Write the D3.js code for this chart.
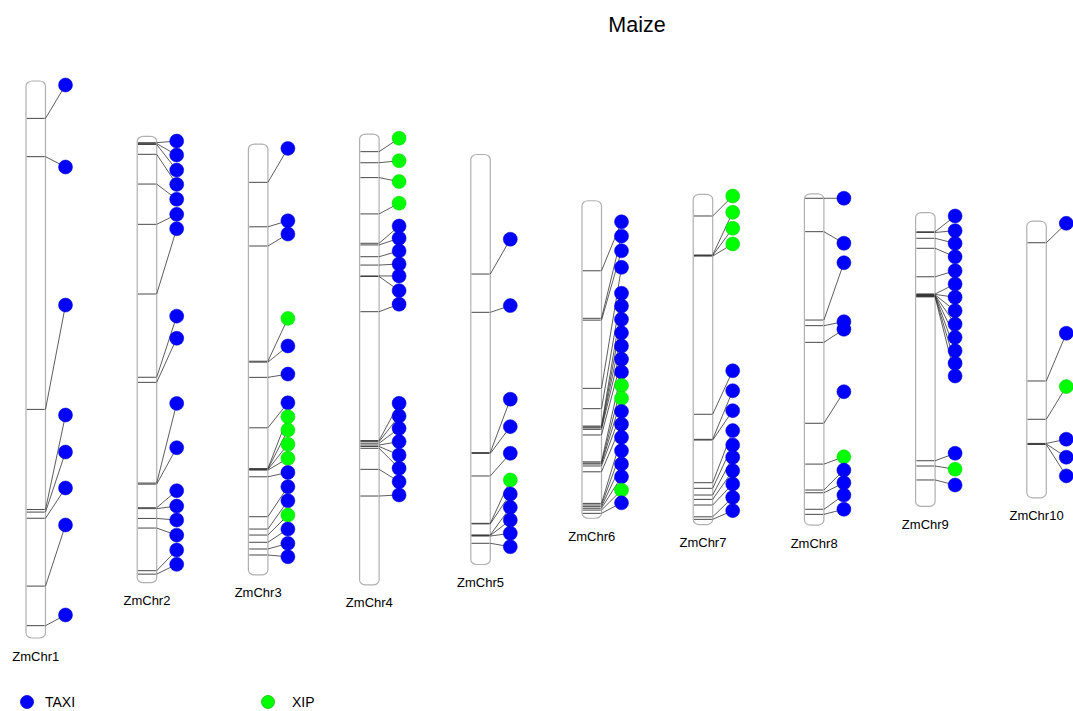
<!DOCTYPE html>
<html>
<head>
<meta charset="utf-8">
<script src="https://cdn.jsdelivr.net/npm/d3@7"></script>
<style>
  body { margin: 0; background: #fff; }
  svg { font-family: "Liberation Sans", Arial, sans-serif; }
</style>
</head>
<body>
<svg id="chart" width="1073" height="711"></svg>
<script>
// chromosome names and lengths (Mb)
const chromosomes = ["ZmChr1","ZmChr2","ZmChr3","ZmChr4","ZmChr5","ZmChr6","ZmChr7","ZmChr8","ZmChr9","ZmChr10"]
const chromLengths = [307, 246, 237.5, 248.5, 226, 175, 182, 182.5, 162, 152.5]

// gene positions on each chromosome (Mb)
const genePos = [
  [20.6, 41.7, 181.0, 236.2, 237.6, 241.0, 278.4, 300.2],
  [3.5, 4.0, 4.5, 9.9, 26.3, 48.5, 86.9, 132.8, 135.6, 191.1, 191.7, 204.7, 205.2, 210.6, 215.9, 239.4, 241.3],
  [21.1, 45.6, 56.2, 119.7, 120.2, 128.6, 156.4, 178.9, 179.1, 179.4, 179.7, 183.4, 205.4, 212.2, 215.5, 219.5, 223.2, 226.5],
  [9.7, 15.8, 24.0, 44.0, 60.2, 61.1, 67.6, 72.2, 78.2, 78.5, 97.9, 168.9, 169.5, 170.4, 171.4, 172.2, 173.2, 184.8, 199.5],
  [65.9, 87.0, 164.3, 164.8, 177.2, 203.3, 203.6, 209.7, 210.0, 210.3, 214.3],
  [38.6, 64.8, 65.8, 103.4, 114.6, 124.2, 124.7, 125.2, 126.0, 129.1, 143.9, 144.6, 145.1, 146.2, 149.4, 166.8, 167.7, 168.6, 169.5, 170.5, 172.3],
  [11.9, 33.4, 33.7, 34.0, 121.2, 135.0, 135.4, 158.9, 162.0, 165.7, 168.1, 171.2, 177.7, 179.1],
  [2.4, 20.8, 69.5, 72.6, 81.8, 126.4, 148.9, 163.2, 164.7, 173.8, 176.6],
  [10.6, 11.0, 14.2, 19.7, 35.4, 44.9, 45.1, 45.4, 45.6, 45.8, 46.0, 46.2, 46.5, 136.8, 139.7, 147.4],
  [11.9, 88.1, 109.2, 122.5, 122.8, 123.1]
]

// where each gene's marker sits alongside the chromosome (Mb)
const markerPos = [
  [2.2, 47.4, 123.5, 184.1, 204.5, 224.3, 244.7, 294.3],
  [2.6, 10.3, 18.6, 26.5, 34.7, 43.0, 50.9, 99.1, 111.3, 147.2, 171.6, 195.3, 203.8, 211.5, 219.8, 228.0, 235.9],
  [2.4, 42.3, 49.6, 96.1, 111.3, 126.8, 142.6, 150.3, 157.6, 165.5, 173.2, 181.0, 188.9, 196.6, 204.5, 212.2, 220.1, 227.5],
  [2.3, 14.7, 26.2, 38.1, 50.7, 57.4, 64.4, 71.6, 78.2, 86.3, 93.8, 148.4, 155.4, 162.2, 169.5, 176.9, 184.2, 191.6, 198.9],
  [46.7, 83.3, 134.9, 150.0, 164.7, 179.4, 187.1, 194.5, 201.5, 208.8, 216.2],
  [11.6, 19.5, 27.6, 36.7, 51.0, 58.0, 65.4, 72.8, 80.1, 87.4, 94.4, 101.8, 108.9, 116.1, 123.2, 130.4, 137.8, 145.1, 152.1, 159.5, 166.5],
  [0.9, 9.9, 18.7, 27.3, 97.2, 108.2, 119.2, 130.2, 138.1, 144.9, 152.3, 159.6, 167.0, 174.3],
  [2.4, 27.2, 37.9, 70.4, 74.6, 109.0, 144.9, 152.2, 159.2, 166.0, 173.8],
  [1.9, 10.0, 17.0, 24.4, 32.1, 39.4, 46.7, 54.1, 61.5, 68.8, 76.2, 83.1, 90.1, 132.7, 141.5, 150.2],
  [1.2, 61.8, 91.2, 120.2, 130.1, 140.4]
]

// gene family per gene: T = TAXI, X = XIP
const geneType = [
  "TTTTTTTT",
  "TTTTTTTTTTTTTTTTT",
  "TTTXTTTXXXXTTTXTTT",
  "XXXXTTTTTTTTTTTTTTT",
  "TTTTTXTTTTT",
  "TTTTTTTTTTTXXTTTTTTXT",
  "XXXXTTTTTTTTTT",
  "TTTTTTXTTTT",
  "TTTTTTTTTTTTTTXT",
  "TTXTTT"
]

const families = ["TAXI", "XIP"]
const familyColors = ["#0000ff", "#00ff00"]

const width = 1073, height = 711
const svg = d3.select("#chart")

const chromW = 19.5
const dotOffset = 39.5
const dotR = 7
const maxLen = d3.max(chromLengths)

const x = d3.scalePoint().domain(chromosomes).range([26, 1026.8])
// positions are centred around the middle of each chromosome
const y = d3.scaleLinear().domain([-maxLen / 2, maxLen / 2]).range([81, 638])
const color = d3.scaleOrdinal().domain(families).range(familyColors)
const fam = c => c == "X" ? "XIP" : "TAXI"

svg.append("text")
  .attr("x", 637).attr("y", 32)
  .attr("text-anchor", "middle")
  .style("font-size", "21.5px")
  .text("Maize")

chromosomes.forEach((name, i) => {
  const L = chromLengths[i]
  const left = x(name)
  const yy = p => y(p - L / 2)
  const g = svg.append("g")

  g.append("rect")
    .attr("x", left).attr("y", yy(0))
    .attr("width", chromW).attr("height", yy(L) - yy(0))
    .attr("rx", 6).attr("ry", 5)
    .attr("fill", "#fff")
    .attr("stroke", "#b0b0b0")
    .attr("stroke-width", 1.2)

  const genes = genePos[i].map((p, j) => ({
    pos: p, marker: markerPos[i][j], family: fam(geneType[i][j])
  }))

  g.selectAll(".band").data(genes).enter().append("line")
    .attr("x1", left + 0.8).attr("x2", left + chromW - 0.8)
    .attr("y1", d => yy(d.pos)).attr("y2", d => yy(d.pos))
    .attr("stroke", "#333").attr("stroke-width", 0.9)

  g.selectAll(".link").data(genes).enter().append("line")
    .attr("x1", left + chromW).attr("y1", d => yy(d.pos))
    .attr("x2", left + dotOffset).attr("y2", d => yy(d.marker))
    .attr("stroke", "#333").attr("stroke-width", 0.8)

  g.selectAll(".dot").data(genes).enter().append("circle")
    .attr("cx", left + dotOffset).attr("cy", d => yy(d.marker))
    .attr("r", dotR)
    .attr("fill", d => color(d.family))
    .attr("stroke", d => d3.color(color(d.family)).darker(0.6))
    .attr("stroke-width", 0.5)

  g.append("text")
    .attr("x", left + chromW / 2).attr("y", yy(L) + 22.5)
    .attr("text-anchor", "middle")
    .style("font-size", "13px")
    .text(name)
})

// legend
const legendX = [27, 268]
const legendTextX = [45, 292]
families.forEach((f, i) => {
  svg.append("circle")
    .attr("cx", legendX[i]).attr("cy", 702).attr("r", 6.5)
    .attr("fill", color(f))
    .attr("stroke", d3.color(color(f)).darker(0.8)).attr("stroke-width", 0.8)
  svg.append("text")
    .attr("x", legendTextX[i]).attr("y", 707)
    .style("font-size", "14px")
    .text(f)
})
</script>
</body>
</html>
